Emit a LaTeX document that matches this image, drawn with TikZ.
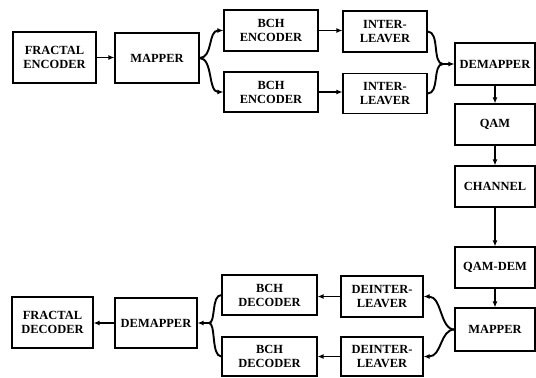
\documentclass[tikz,border=0pt]{standalone}
\usepackage{fontspec}
\setmainfont{Liberation Serif}
\usetikzlibrary{arrows.meta}
\tikzset{
  blk/.style={draw, line width=1.1bp, align=center, inner sep=0pt,
    font=\fontsize{12.5}{14}\selectfont\bfseries},
  conn/.style={line width=1.9bp, -{Latex[length=6bp,width=5bp]}},
  wire/.style={line width=1.9bp},
}
\begin{document}
\begin{tikzpicture}[x=1bp,y=-1bp]
\useasboundingbox (0,0) rectangle (536,377);
% top row
\node[blk, minimum width=83bp, minimum height=51bp] (fe) at (54.5,57.5) {FRACTAL\\ENCODER};
\node[blk, minimum width=84bp, minimum height=50bp] (mapA) at (157,58) {MAPPER};
\node[blk, minimum width=94bp, minimum height=41bp] (bchA) at (271,30.5) {BCH\\ENCODER};
\node[blk, minimum width=94bp, minimum height=40bp] (bchB) at (271,92) {BCH\\ENCODER};
\node[blk, minimum width=84bp, minimum height=41bp] (ilA) at (385,31.5) {INTER-\\LEAVER};
\node[blk, minimum width=84bp, minimum height=40bp] (ilB) at (385,93.5) {INTER-\\LEAVER};
% right column
\node[blk, minimum width=80bp, minimum height=42bp] (demA) at (495,64) {DEMAPPER};
\node[blk, minimum width=80bp, minimum height=41bp] (qam) at (495,124.5) {QAM};
\node[blk, minimum width=80bp, minimum height=41bp] (chan) at (495,186.5) {CHANNEL};
\node[blk, minimum width=80bp, minimum height=41bp] (qdem) at (495,267.5) {QAM-DEM};
\node[blk, minimum width=80bp, minimum height=43bp] (mapB) at (495,329.5) {MAPPER};
% bottom row
\node[blk, minimum width=82bp, minimum height=41bp] (diA) at (382,296.5) {DEINTER-\\LEAVER};
\node[blk, minimum width=82bp, minimum height=39bp] (diB) at (382,356.5) {DEINTER-\\LEAVER};
\node[blk, minimum width=95bp, minimum height=40bp] (bcdA) at (269.5,295) {BCH\\DECODER};
\node[blk, minimum width=95bp, minimum height=39bp] (bcdB) at (269.5,356.5) {BCH\\DECODER};
\node[blk, minimum width=82bp, minimum height=50bp] (demB) at (156,323) {DEMAPPER};
\node[blk, minimum width=81bp, minimum height=51bp] (fd) at (52.5,322.5) {FRACTAL\\DECODER};
% junctions
\coordinate (jA) at (443,64);
\coordinate (jB) at (209,323);
% top connectors
\draw[conn] (fe.east) -- (fe.east -| mapA.west);
\draw[conn] (mapA.east) .. controls (213,58) and (208,30.5) .. (bchA.west);
\draw[conn] (mapA.east) .. controls (213,58) and (208,92) .. (bchB.west);
\draw[conn] (bchA.east) -- (bchA.east -| ilA.west);
\draw[conn] (bchB.east) -- (bchB.east -| ilB.west);
\draw[wire] (ilA.east) .. controls (440,31.5) and (432,64) .. (jA);
\draw[wire] (ilB.east) .. controls (440,93.5) and (432,64) .. (jA);
\draw[conn] (jA) -- (demA.west);
% right column connectors
\draw[conn] (demA) -- (qam);
\draw[conn] (qam) -- (chan);
\draw[conn] (chan) -- (qdem);
\draw[conn] (qdem) -- (mapB);
% bottom connectors
\draw[conn] (mapB.west) .. controls (440,329.5) and (442,296.5) .. (diA.east);
\draw[conn] (mapB.west) .. controls (440,329.5) and (442,356.5) .. (diB.east);
\draw[conn] (diA.west) -- (diA.west -| bcdA.east);
\draw[conn] (diB.west) -- (diB.west -| bcdB.east);
\draw[wire] (bcdA.west) .. controls (211,295) and (216,323) .. (jB);
\draw[wire] (bcdB.west) .. controls (211,356.5) and (216,323) .. (jB);
\draw[conn] (jB) -- (demB.east);
\draw[conn] (demB.west) -- (demB.west -| fd.east);
\end{tikzpicture}
\end{document}
